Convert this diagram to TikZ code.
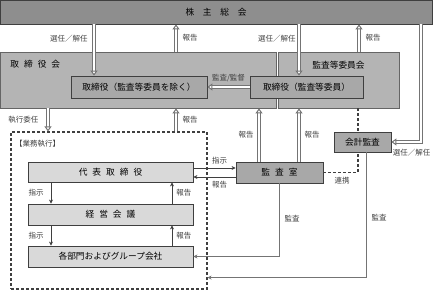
\documentclass[tikz,border=0pt]{standalone}
\usepackage{fontspec}
\setmainfont{Noto Sans CJK JP}
\usetikzlibrary{arrows.meta,calc,positioning}
\definecolor{ink}{HTML}{3F3F3F}
\definecolor{trait}{HTML}{747474}
\definecolor{assemblee}{HTML}{8E8E8E}
\definecolor{conseil}{HTML}{B4B4B4}
\definecolor{organe}{HTML}{A8A8A8}
\definecolor{clair}{HTML}{D9D9D9}
\newcommand{\jgap}{\hspace{5pt}}

\begin{document}
\begin{tikzpicture}[x=1pt, y=-1pt, >={Stealth[length=4pt,width=4pt]},
    boite/.style={draw=ink, line width=0.8pt, inner sep=0pt, font=\fontsize{8.7}{10}\selectfont},
    lbl/.style={font=\fontsize{7.5}{9}\selectfont, text=ink, inner sep=1pt},
    dbl/.style={draw=trait, double=white, double distance=1.2pt, line width=1pt,
      -{Triangle[open,length=5pt,width=7pt,fill=white]}},
    fin/.style={draw=ink, line width=0.7pt, ->},
    ctrl/.style={draw=trait, line width=1pt, ->},
    tirets/.style={draw=ink, line width=1.1pt, dash pattern=on 3pt off 2pt}]
  \useasboundingbox (0,0) rectangle (433,291);
  % organes
  \node[boite, fill=assemblee, minimum width=432, minimum height=24] (kabu) at (216,12) {株　主　総　会};
  \node[boite, fill=conseil, draw=ink!80, minimum width=276, minimum height=56] (torikai) at (138,80) {};
  \node[boite, fill=conseil, draw=ink!80, minimum width=121, minimum height=56] (kansai) at (338.5,80) {};
  \node[boite, draw=none, anchor=west] (torikaiT) at (10,64) {取\jgap{}締\jgap{}役\jgap{}会};
  \node[boite, draw=none] (kansaiT) at (338.5,65) {監査等委員会};
  \node[boite, fill=organe, minimum width=136, minimum height=22] (tr1) at (139,87) {取締役（監査等委員を除く）};
  \node[boite, fill=organe, minimum width=113, minimum height=22] (tr2) at (306.5,87) {取締役（監査等委員）};
  \node[tirets, minimum width=196, minimum height=157] (gyomu) at (109,210.5) {};
  \node[lbl, anchor=west] (gyomuT) at (14,144) {【業務執行】};
  \node[boite, fill=clair, minimum width=165, minimum height=20] (daihyo) at (110.5,172) {代\jgap{}表\jgap{}取\jgap{}締\jgap{}役};
  \node[boite, fill=clair, minimum width=165, minimum height=21] (keiei) at (110.5,214.5) {経\jgap{}営\jgap{}会\jgap{}議};
  \node[boite, fill=clair, minimum width=165, minimum height=21] (bumon) at (110.5,256.5) {各部門およびグループ会社};
  \node[boite, fill=organe, minimum width=87, minimum height=21] (kansashitsu) at (279.5,172.5) {監\jgap{}査\jgap{}室};
  \node[boite, fill=organe, minimum width=57, minimum height=20] (kaikei) at (362.5,142) {会計監査};
  % flèches doubles
  \draw[dbl] (kabu.south -| 94,0) -- (tr1.north -| 94,0) node[lbl, pos=0.27, left=5pt] {選任／解任};
  \draw[dbl] (torikai.north -| 176,0) -- (kabu.south -| 176,0) node[lbl, midway, right=5pt] {報告};
  \draw[dbl] (kabu.south -| 299,0) -- (tr2.north -| 299,0) node[lbl, pos=0.27, left=2pt] {選任／解任};
  \draw[dbl] (kansai.north -| 359,0) -- (kabu.south -| 359,0) node[lbl, midway, right=5pt] {報告};
  \draw[dbl] (tr2.west) -- (tr1.east) node[lbl, midway, above=4pt] {監査/監督};
  \draw[dbl] (torikai.south -| 48,0) -- (gyomu.north -| 48,0) node[lbl, midway, left=8pt] {執行委任};
  \draw[dbl] (gyomu.north -| 176,0) -- (torikai.south -| 176,0) node[lbl, midway, right=5pt] {報告};
  \draw[dbl] (kansashitsu.north -| 259,0) -- (torikai.south -| 259,0) node[lbl, midway, left=4pt] {報告};
  \draw[dbl] (kansashitsu.north -| 299,0) -- (kansai.south -| 299,0) node[lbl, midway, right=4pt] {報告};
  \draw[dbl] (kabu.south -| 421,0) |- (kaikei.east) node[lbl, pos=1, anchor=north west, yshift=-6pt] {選任／解任};
  % liaisons en tirets
  \draw[tirets] (kansai.south -| 358,0) -- (kaikei.north -| 358,0);
  \draw[tirets] (kansashitsu.east) -| (kaikei.south -| 358,0) node[lbl, pos=0.27, below=3pt] {連携};
  % direction et audit
  \draw[fin] ([yshift=4pt]daihyo.east) -- ([yshift=4pt]daihyo.east -| kansashitsu.west) node[lbl, pos=0.62, above=3pt] {指示};
  \draw[fin] ([yshift=-4.5pt]kansashitsu.west) -- ([yshift=-4.5pt]kansashitsu.west -| daihyo.east) node[lbl, pos=0.38, below=3pt] {報告};
  \draw[fin] (daihyo.south -| 51,0) -- (keiei.north -| 51,0) node[lbl, midway, left=6pt] {指示};
  \draw[fin] (keiei.north -| 172,0) -- (daihyo.south -| 172,0) node[lbl, midway, right=3pt] {報告};
  \draw[fin] (keiei.south -| 51,0) -- (bumon.north -| 51,0) node[lbl, midway, left=6pt] {指示};
  \draw[fin] (bumon.north -| 172,0) -- (keiei.south -| 172,0) node[lbl, midway, right=3pt] {報告};
  \draw[ctrl] (kansashitsu.south -| 279,0) |- (bumon.east) node[lbl, pos=0.24, right=4pt] {監査};
  \draw[ctrl] (kaikei.south -| 366,0) |- ([yshift=12pt]gyomu.south east) node[lbl, pos=0.26, right=4pt] {監査};
\end{tikzpicture}
\end{document}
